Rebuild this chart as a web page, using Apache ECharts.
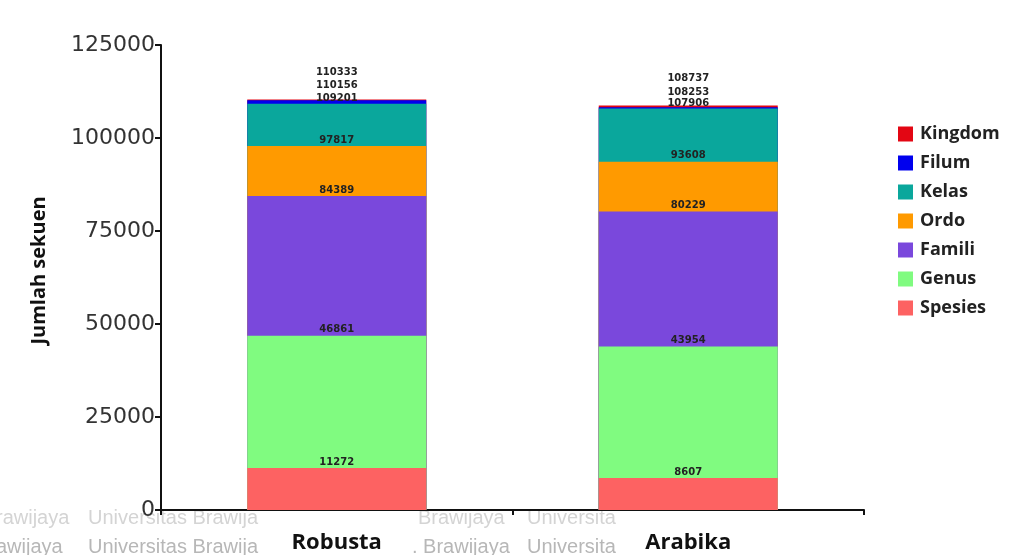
<!DOCTYPE html>
<html>
<head>
<meta charset="utf-8">
<script src="https://cdn.jsdelivr.net/npm/echarts@6/dist/echarts.min.js"></script>
<style>
  html, body { margin: 0; padding: 0; background: #fff; }
  #chart { width: 1009px; height: 555px; }
</style>
</head>
<body>
<div id="chart"></div>
<script>
// Cumulative sequence counts per taxonomic level (each bar drawn from zero)
const categories = ['Robusta', 'Arabika'];
const kingdom = [110333, 108737];
const filum   = [110156, 108253];
const kelas   = [109201, 107906];
const ordo    = [97817, 93608];
const famili  = [84389, 80229];
const genus   = [46861, 43954];
const spesies = [11272, 8607];
const yTicks  = { min: 0, max: 125000, step: 25000 };

const levels = [
  { name: 'Kingdom', data: kingdom, color: '#e30613', dist: 22 },
  { name: 'Filum',   data: filum,   color: '#0000ee', dist: 10 },
  { name: 'Kelas',   data: kelas,   color: '#0aa79c', dist: 0 },
  { name: 'Ordo',    data: ordo,    color: '#ff9a00', dist: 1 },
  { name: 'Famili',  data: famili,  color: '#7a48dc', dist: 1 },
  { name: 'Genus',   data: genus,   color: '#80fb80', dist: 1 },
  { name: 'Spesies', data: spesies, color: '#fd6262', dist: 1 }
];

const series = levels.map(l => ({
  name: l.name,
  type: 'bar',
  data: l.data,
  barWidth: 179,
  barGap: '-100%',
  itemStyle: { color: l.color },
  label: {
    show: true,
    position: 'top',
    distance: l.dist,
    fontSize: 10,
    fontFamily: 'DejaVu Sans',
    color: '#222',
    fontWeight: 'bold'
  },
  emphasis: { disabled: true }
}));

// Faint institutional watermark along the bottom edge
const wmFont = '20px "Liberation Sans", Arial, sans-serif';
const watermark = [
  { x: -4, y: 508, t: 'rawijaya', c: '#d4d4d4' },
  { x: 88, y: 508, t: 'Universitas Brawija', c: '#d4d4d4' },
  { x: 418, y: 508, t: 'Brawijaya', c: '#d4d4d4' },
  { x: 527, y: 508, t: 'Universita', c: '#d4d4d4' },
  { x: -4, y: 537, t: 'awijaya', c: '#b7b7b7' },
  { x: 88, y: 537, t: 'Universitas Brawija', c: '#b7b7b7' },
  { x: 412, y: 537, t: '. Brawijaya', c: '#b7b7b7' },
  { x: 527, y: 537, t: 'Universita', c: '#b7b7b7' }
].map(w => ({
  type: 'text', left: w.x, top: w.y, z: -10,
  style: { text: w.t, font: wmFont, fill: w.c }
}));

const chart = echarts.init(document.getElementById('chart'), null, { renderer: 'canvas' });
chart.setOption({
  animation: false,
  backgroundColor: '#fff',
  graphic: watermark,
  grid: { left: 161, right: 145, top: 45, bottom: 45, containLabel: false },
  legend: {
    orient: 'vertical',
    left: 893,
    top: 120,
    itemWidth: 15,
    itemHeight: 15,
    itemGap: 11,
    icon: 'rect',
    textStyle: { fontSize: 18, fontWeight: 'bold', color: '#222', fontFamily: '"Open Sans", sans-serif', padding: [0, 0, 0, 2] },
    data: levels.map(l => l.name)
  },
  xAxis: {
    type: 'category',
    data: categories,
    axisLine: { lineStyle: { color: '#111', width: 2 } },
    axisTick: { show: true, length: 5, alignWithLabel: false, lineStyle: { color: '#111', width: 2 } },
    axisLabel: { fontSize: 22, fontWeight: 'bold', color: '#111', fontFamily: '"Open Sans", sans-serif', margin: 22 }
  },
  yAxis: {
    type: 'value',
    min: yTicks.min,
    max: yTicks.max,
    interval: yTicks.step,
    name: 'Jumlah sekuen',
    nameLocation: 'middle',
    nameGap: 112,
    nameTextStyle: { fontSize: 20, fontWeight: 'bold', color: '#111', fontFamily: '"Open Sans", sans-serif', padding: [0, 0, 0, 14] },
    splitLine: { show: false },
    axisLine: { show: true, lineStyle: { color: '#111', width: 2 } },
    axisTick: { show: true, length: 6, lineStyle: { color: '#111', width: 2 } },
    axisLabel: { fontSize: 22, color: '#333', fontFamily: 'DejaVu Sans', margin: 6, formatter: v => String(v) }
  },
  series: series
});
</script>
</body>
</html>
